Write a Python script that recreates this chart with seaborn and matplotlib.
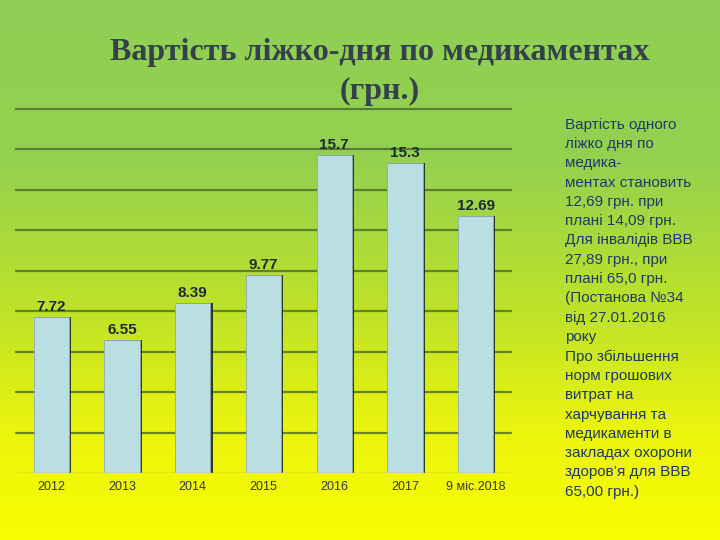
import numpy as np
import pandas as pd
import matplotlib
matplotlib.use("Agg")
import matplotlib.pyplot as plt
import matplotlib.patheffects as pe
from matplotlib.colors import LinearSegmentedColormap
import seaborn as sns

categories = ["2012", "2013", "2014", "2015", "2016", "2017", "9 міс.2018"]
values = [7.72, 6.55, 8.39, 9.77, 15.7, 15.3, 12.69]
value_labels = ["7.72", "6.55", "8.39", "9.77", "15.7", "15.3", "12.69"]
title = "Вартість ліжко-дня по медикаментах\n(грн.)"
note = ("Вартість одного\nліжко дня по\nмедика-\nментах становить\n12,69 грн. при\n"
        "плані 14,09 грн.\nДля інвалідів ВВВ\n27,89 грн., при\nплані 65,0 грн.\n"
        "(Постанова №34\nвід 27.01.2016\nроку\nПро збільшення\nнорм грошових\n"
        "витрат на\nхарчування та\nмедикаменти в\nзакладах охорони\nздоров’я для ВВВ\n65,00 грн.)")

df = pd.DataFrame({"cat": categories, "val": values})

sns.set_theme(style="white")
plt.rcParams["font.family"] = ["Liberation Sans", "DejaVu Sans"]

fig = plt.figure(figsize=(7.2, 5.4), dpi=100)

# background gradient
bg = fig.add_axes([0, 0, 1, 1], zorder=-10)
cmap = LinearSegmentedColormap.from_list(
    "bg",
    [(0.0, (0.56, 0.81, 0.33)), (0.30, (0.58, 0.82, 0.31)),
     (0.50, (0.70, 0.87, 0.20)), (0.62, (0.78, 0.90, 0.14)),
     (0.80, (0.92, 0.96, 0.05)), (1.0, (0.98, 0.99, 0.0))])
grad = np.linspace(0, 1, 256).reshape(-1, 1)
bg.imshow(grad, aspect="auto", cmap=cmap, extent=[0, 1, 0, 1], origin="upper")
bg.set_axis_off()

ax = fig.add_axes([0.0222, 0.124, 0.6875, 0.675])
ax.patch.set_alpha(0)
sns.barplot(data=df, x="cat", y="val", ax=ax, color="#badfe3", width=0.5,
            saturation=1, edgecolor="#8faab0", linewidth=0.6, zorder=3)
for p in ax.patches:
    p.set_path_effects([pe.SimplePatchShadow(offset=(1.5, 0), shadow_rgbFace="#1c2a20", alpha=0.9),
                        pe.Normal()])

ax.set_ylim(0, 18)
ax.set_xlim(-0.5, 6.5)
for y in range(2, 19, 2):
    ln = ax.axhline(y, color="#4a6a2a", lw=1.6, alpha=0.8, zorder=1)
    ln.set_clip_on(False)
ax.axhline(0, color="#a8b860", lw=1.0, zorder=4)

for i, (v, lab) in enumerate(zip(values, value_labels)):
    ax.text(i, v + 0.15, lab, ha="center", va="bottom", fontsize=11,
            fontweight="bold", color="#1e2a33", zorder=5)

for s in ax.spines.values():
    s.set_visible(False)
ax.set_yticks([])
ax.set_xlabel("")
ax.set_ylabel("")
ax.tick_params(axis="x", length=0, pad=6, labelsize=9, labelcolor="#303a40")

fig.text(0.527, 0.866, title, ha="center", va="center", fontsize=23,
         fontweight="bold", family=["Liberation Serif", "DejaVu Serif"],
         color="#34404c", linespacing=1.45)

fig.text(0.785, 0.782, note, ha="left", va="top", fontsize=11,
         color="#1f3a6a", linespacing=1.48)

fig.savefig("out.png", dpi=100)
